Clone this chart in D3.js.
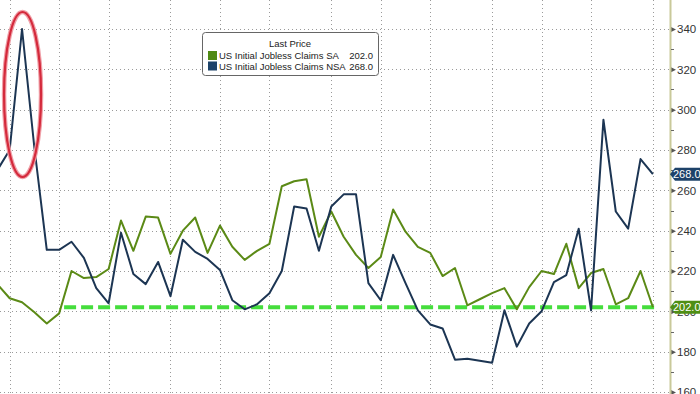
<!DOCTYPE html>
<html lang="en">
<head>
    <meta charset="UTF-8">
    <title>US Initial Jobless Claims</title>
    <script src="https://cdnjs.cloudflare.com/ajax/libs/d3/7.8.5/d3.min.js"></script>
    <style>
        * {
            margin: 0;
            padding: 0;
            box-sizing: border-box;
        }

        body {
            background-color: #ffffff;
            width: 700px;
            height: 394px;
            overflow: hidden;
        }

        svg text {
            font-family: 'Liberation Sans', Arial, sans-serif;
        }
    </style>
</head>
<body>
    <div id="chart"></div>

    <script>
        // Weekly claims, thousands
        const saValues = [
            213.5, 206.5, 204.5, 199.5, 194, 199, 220, 216.5, 217, 221,
            245, 230, 247, 246.5, 228.5, 240, 246.5, 229, 242.5, 232,
            225.5, 230, 233.5, 262, 264.5, 265.5, 237, 249.5, 237, 228,
            221.5, 227, 250.5, 239.5, 232, 229, 217.5, 221.5, 203, 206,
            209, 211.5, 201, 212, 220, 218.5, 233.5, 211.5, 219, 221,
            203.5, 206.5, 220, 202
        ];
        const nsaValues = [
            270, 280, 340, 281, 230.5, 230.5, 234.5, 226.5, 211.5, 204,
            239, 218.5, 213.5, 224.5, 207.5, 235.5, 229.5, 226, 220.5, 205.5,
            201, 203.5, 209, 220, 252, 251, 230, 252, 258, 258,
            214, 205.5, 228, 214, 200.5, 193.5, 191.5, 176, 176.5, 175.5,
            174.5, 200.5, 182.5, 194, 200, 214.5, 218, 241, 200.5, 295,
            249.5, 241, 275.5, 268
        ];
        // week index of the month gridlines
        const monthTicks = [1, 5, 9, 14, 18, 22, 27, 31, 35, 40, 44, 48, 53];
        const yTicks = [160, 180, 200, 220, 240, 260, 280, 300, 320, 340];
        const lastSA = 202.0;
        const lastNSA = 268.0;
        const dashLevel = 202;
        const dashFrom = 5.4;

        const W = 700, H = 394;
        const axisX = 670;

        const svg = d3.select('#chart')
            .append('svg')
            .attr('width', W)
            .attr('height', H);

        const x = d3.scaleLinear()
            .domain([0, saValues.length - 1])
            .range([-2.7, 652.9]);

        const y = d3.scaleLinear()
            .domain([160, 340])
            .range([392, 29]);

        svg.append('defs')
            .append('clipPath')
            .attr('id', 'plot-clip')
            .append('rect')
            .attr('x', 0)
            .attr('y', 0)
            .attr('width', axisX)
            .attr('height', H);

        // Grid
        const grid = svg.append('g');
        grid.selectAll('.hgrid')
            .data(yTicks)
            .enter()
            .append('line')
            .attr('x1', 0)
            .attr('x2', axisX)
            .attr('y1', d => Math.round(y(d)) + 0.5)
            .attr('y2', d => Math.round(y(d)) + 0.5)
            .attr('stroke', '#9a9a9a')
            .attr('stroke-width', 1)
            .attr('stroke-dasharray', '1,3');

        grid.selectAll('.vgrid')
            .data(monthTicks)
            .enter()
            .append('line')
            .attr('x1', d => Math.round(x(d)) + 0.5)
            .attr('x2', d => Math.round(x(d)) + 0.5)
            .attr('y1', 0)
            .attr('y2', H)
            .attr('stroke', '#9a9a9a')
            .attr('stroke-width', 1)
            .attr('stroke-dasharray', '1,3');

        // Right axis
        const yAxis = d3.axisRight(y)
            .tickValues(yTicks)
            .tickSize(0)
            .tickPadding(7);

        const axisG = svg.append('g')
            .attr('transform', `translate(${axisX},0)`)
            .call(yAxis);
        axisG.select('.domain').remove();
        axisG.selectAll('text')
            .attr('fill', '#333')
            .style('font-size', '11.5px');

        axisG.append('line')
            .attr('x1', 0.5).attr('x2', 0.5)
            .attr('y1', 0).attr('y2', H)
            .attr('stroke', '#c9c99a')
            .attr('stroke-width', 2);

        // little pointer marks in front of labels
        axisG.selectAll('.tick')
            .append('path')
            .attr('d', 'M1,-2.5 L6,0 L1,2.5 Z')
            .attr('fill', '#555');

        // minor ticks between labels
        axisG.selectAll('.minor')
            .data(yTicks.slice(0, -1).map(d => d + 10))
            .enter()
            .append('line')
            .attr('x1', 1).attr('x2', 4)
            .attr('y1', d => Math.round(y(d)) + 0.5)
            .attr('y2', d => Math.round(y(d)) + 0.5)
            .attr('stroke', '#666');

        // Lines
        const line = d3.line()
            .x((d, i) => x(i))
            .y(d => y(d));

        const plot = svg.append('g')
            .attr('clip-path', 'url(#plot-clip)');

        plot.append('line')
            .attr('x1', x(dashFrom))
            .attr('x2', x(saValues.length - 1) + 2)
            .attr('y1', y(dashLevel))
            .attr('y2', y(dashLevel))
            .attr('stroke', '#45dd3c')
            .attr('stroke-width', 4)
            .attr('stroke-dasharray', '12,5');

        plot.append('path')
            .datum(saValues)
            .attr('d', line)
            .attr('fill', 'none')
            .attr('stroke', '#5b8a16')
            .attr('stroke-width', 2)
            .attr('stroke-linejoin', 'round');

        plot.append('path')
            .datum(nsaValues)
            .attr('d', line)
            .attr('fill', 'none')
            .attr('stroke', '#1c3553')
            .attr('stroke-width', 2)
            .attr('stroke-linejoin', 'round');

        // Red highlight round the spike
        svg.append('ellipse')
            .attr('cx', x(2) + 0.5)
            .attr('cy', 94.5)
            .attr('rx', 18.5)
            .attr('ry', 82.5)
            .attr('fill', 'none')
            .attr('stroke', '#f0a0a8')
            .attr('stroke-width', 4.5);
        svg.append('ellipse')
            .attr('cx', x(2) + 0.5)
            .attr('cy', 94.5)
            .attr('rx', 18.5)
            .attr('ry', 82.5)
            .attr('fill', 'none')
            .attr('stroke', '#d42a3c')
            .attr('stroke-width', 2.2);

        // Last value tags
        function drawTag(value, color) {
            const cy = y(value);
            const g = svg.append('g')
                .attr('transform', `translate(${axisX},${cy})`);
            g.append('path')
                .attr('d', 'M0,0 L5,-6.5 L30,-6.5 L30,6.5 L5,6.5 Z')
                .attr('fill', color);
            g.append('text')
                .attr('x', 3)
                .attr('y', 4)
                .attr('fill', '#fff')
                .style('font-size', '11px')
                .text(value.toFixed(1));
        }
        drawTag(lastNSA, '#1d4269');
        drawTag(lastSA, '#4f8f14');

        // Legend
        const legend = svg.append('g')
            .attr('transform', 'translate(202,32)');
        legend.append('rect')
            .attr('x', 0.5).attr('y', 0.5)
            .attr('width', 176).attr('height', 43)
            .attr('rx', 3)
            .attr('fill', '#fff')
            .attr('stroke', '#666')
            .attr('stroke-width', 1);
        legend.append('text')
            .attr('x', 88)
            .attr('y', 14.5)
            .attr('text-anchor', 'middle')
            .attr('fill', '#222')
            .style('font-size', '9.5px')
            .text('Last Price');

        const items = [
            { name: 'US Initial Jobless Claims SA', value: lastSA, color: '#4f8a14' },
            { name: 'US Initial Jobless Claims NSA', value: lastNSA, color: '#1d4269' }
        ];
        items.forEach((d, i) => {
            const row = legend.append('g')
                .attr('transform', `translate(0,${22 + i * 10.5})`);
            row.append('rect')
                .attr('x', 6).attr('y', -3)
                .attr('width', 9).attr('height', 9)
                .attr('fill', d.color);
            row.append('text')
                .attr('x', 17)
                .attr('y', 5)
                .attr('fill', '#222')
                .style('font-size', '9.5px')
                .text(d.name);
            row.append('text')
                .attr('x', 171)
                .attr('y', 5)
                .attr('text-anchor', 'end')
                .attr('fill', '#222')
                .style('font-size', '9.5px')
                .text(d.value.toFixed(1));
        });
    </script>
</body>
</html>
